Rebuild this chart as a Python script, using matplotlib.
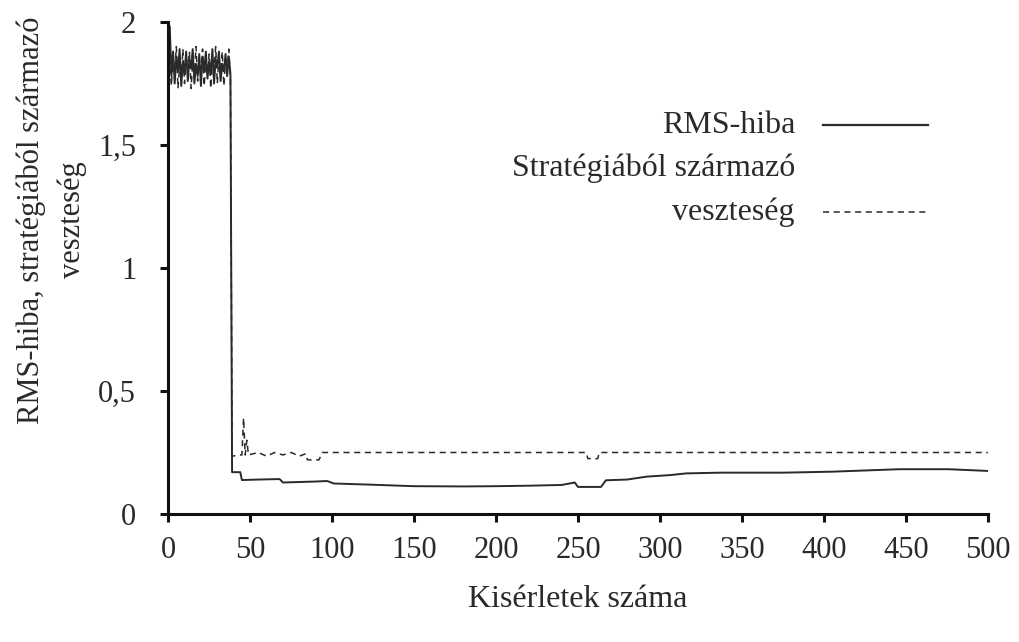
import matplotlib
matplotlib.use("Agg")
import matplotlib.pyplot as plt
from matplotlib.lines import Line2D

plt.rcParams['font.family'] = ['Liberation Serif', 'DejaVu Serif']

# Trial numbers and values for the RMS error
rms_x = list(range(0, 39)) + [39, 40, 44, 45, 55, 68, 70, 80, 90, 97, 101, 120, 150,
                              180, 200, 220, 240, 248, 250, 264, 267, 280, 292, 306,
                              316, 337, 375, 405, 446, 476, 500]
rms_y = [2.0, 1.98, 1.78, 1.88, 1.75, 1.86, 1.80, 1.89, 1.74, 1.84, 1.79, 1.88, 1.76,
         1.85, 1.81, 1.89, 1.75, 1.83, 1.78, 1.87, 1.74, 1.86, 1.80, 1.88, 1.77, 1.84,
         1.79, 1.89, 1.75, 1.85, 1.82, 1.88, 1.76, 1.83, 1.80, 1.87, 1.78, 1.86, 1.79,
         0.17, 0.17, 0.17, 0.138, 0.14, 0.142, 0.128, 0.13, 0.132, 0.134, 0.124, 0.12,
         0.113, 0.112, 0.113, 0.115, 0.118, 0.128, 0.11, 0.11, 0.137, 0.14, 0.152, 0.158,
         0.165, 0.168, 0.168, 0.172, 0.182, 0.182, 0.175]

# Trial numbers and values for the loss coming from the strategy
loss_x = list(range(0, 39)) + [39, 44, 45, 46, 47, 48, 49, 55, 60, 65, 70, 75, 80, 84,
                               85, 92, 94, 255, 256, 262, 263, 500]
loss_y = [1.9, 1.85, 1.74, 1.87, 1.79, 1.9, 1.73, 1.82, 1.77, 1.89, 1.75, 1.86, 1.80,
          1.88, 1.73, 1.84, 1.78, 1.9, 1.76, 1.83, 1.81, 1.89, 1.74, 1.85, 1.79, 1.87,
          1.73, 1.84, 1.80, 1.9, 1.75, 1.86, 1.78, 1.88, 1.74, 1.85, 1.81, 1.89, 1.76,
          0.235, 0.24, 0.24, 0.39, 0.24, 0.30, 0.24, 0.25, 0.235, 0.25, 0.24, 0.25,
          0.235, 0.245, 0.22, 0.22, 0.25, 0.25, 0.225, 0.225, 0.25, 0.25]

x_ticks = list(range(0, 501, 50))
y_ticks = [0, 0.5, 1, 1.5, 2]
y_tick_labels = ["0", "0,5", "1", "1,5", "2"]

legend_labels = ["RMS-hiba", "Stratégiából származó", "veszteség"]
x_label = "Kisérletek száma"
y_label = "RMS-hiba, stratégiából származó\nveszteség"

ink = "#2a2a2a"

fig = plt.figure(figsize=(10.19, 6.42), dpi=100)
ax = fig.add_axes([0.165, 0.1994, 0.8045, 0.7663])

ax.plot(rms_x, rms_y, color=ink, lw=1.4)
ax.plot(loss_x, loss_y, color=ink, lw=1.1, linestyle=(0, (4, 3)))

ax.set_xlim(0, 500)
ax.set_ylim(0, 2)
ax.set_xticks(x_ticks)
ax.set_yticks(y_ticks)
ax.set_yticklabels(y_tick_labels)

for side in ("top", "right"):
    ax.spines[side].set_visible(False)
for side in ("left", "bottom"):
    ax.spines[side].set_linewidth(2.2)
    ax.spines[side].set_color("#111111")

ax.tick_params(axis='both', direction='out', length=6, width=2.2, colors="#111111",
               labelsize=22, labelcolor=ink)
ax.tick_params(axis='y', pad=17)
ax.tick_params(axis='x', pad=10)

ax.set_xlabel(x_label, fontsize=23, color=ink, labelpad=14)
fig.text(52 / 1019, 1 - 220 / 642, y_label, rotation=90, ha='center', va='center',
         fontsize=22, color=ink, multialignment='center', linespacing=1.5)

# Legend drawn as right-aligned text with line samples beside it
tx = (795 - 168) / 820
ys = [(514 - 125) / 492, (514 - 168) / 492, (514 - 212) / 492]
for lbl, yy in zip(legend_labels, ys):
    ax.text(tx, yy, lbl, transform=ax.transAxes, ha='right', va='center',
            fontsize=23, color=ink)
x0, x1 = (823 - 168) / 820, (928 - 168) / 820
ax.add_line(Line2D([x0, x1], [ys[0], ys[0]], transform=ax.transAxes, color=ink, lw=1.6))
ax.add_line(Line2D([x0, x1], [ys[2], ys[2]], transform=ax.transAxes, color=ink, lw=1.1,
                   linestyle=(0, (4, 3))))

fig.savefig("out.png", dpi=100)
